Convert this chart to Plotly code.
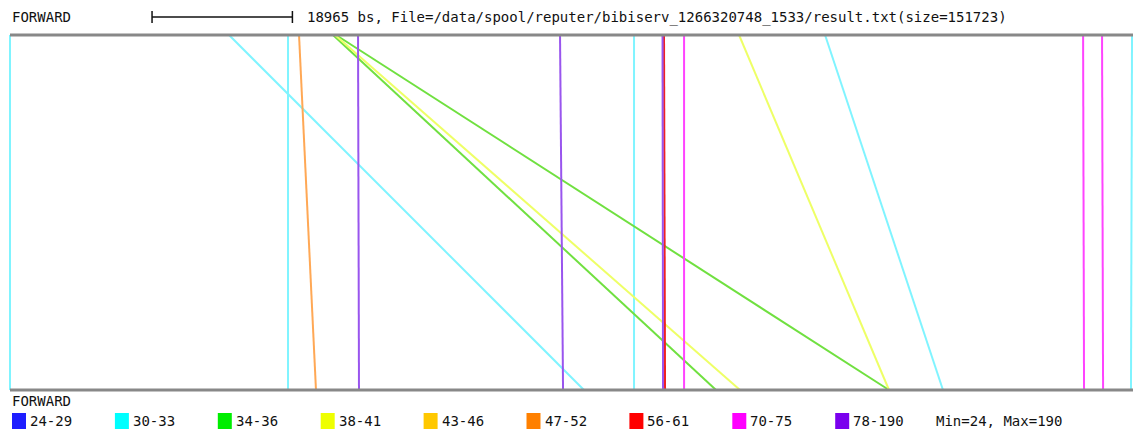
import plotly.graph_objects as go

# ---------------- data ----------------
SEQ_LEN = 151723          # bp (size of sequence)
SCALE_BP = 18965          # scale bar length in bp
SCALE_START = 19190       # bp where scale bar starts
header_label = "FORWARD"
file_text = "18965 bs, File=/data/spool/reputer/bibiserv_1266320748_1533/result.txt(size=151723)"

classes = ["24-29", "30-33", "34-36", "38-41", "43-46", "47-52", "56-61", "70-75", "78-190"]
class_colors = ["#1e1eff", "#00ffff", "#00ee00", "#eeff00", "#ffc800",
                "#ff8000", "#ff0000", "#ff00ff", "#7a00ee"]
# colours as the thin match lines appear
line_colors = ["#4040ff", "#80f4ff", "#70e040", "#eeff66", "#ffc840",
               "#ffa855", "#ee2222", "#ff44ff", "#9955ee"]
minmax_text = "Min=24, Max=190"

# repeat matches: position in top copy, position in bottom copy, length class
match_top = [0, 29590, 37560, 39050, 43640, 43910, 44050, 47020, 74310,
             84310, 88160, 88360, 91070, 98500, 110120, 144980, 147540, 151590]
match_bottom = [0, 77550, 37560, 41340, 95390, 98630, 118760, 47150, 74720,
                84310, 88230, 88500, 91070, 118760, 126050, 145110, 147680, 151450]
match_class = [1, 1, 1, 5, 2, 3, 2, 8, 8, 1, 8, 6, 7, 3, 1, 7, 7, 1]

# ---------------- layout helpers ----------------
W, H = 1135, 432
BP_PER_PX = SEQ_LEN / 1123.0
X0_PX = 10  # pixel of bp 0
def px_to_bp(px):
    return (px - X0_PX) * BP_PER_PX
TOP_PX, BOT_PX = 35, 390
UNIT = BOT_PX - TOP_PX
def py_to_y(py):
    return (BOT_PX - py) / UNIT

fig = go.Figure()

for ci, col in enumerate(line_colors):
    xs, ys = [], []
    for t, b, c in zip(match_top, match_bottom, match_class):
        if c == ci:
            xs += [t, b, None]
            ys += [1, 0, None]
    if xs:
        fig.add_trace(go.Scatter(x=xs, y=ys, mode="lines",
                                 line=dict(color=col, width=2),
                                 hoverinfo="skip", showlegend=False))

dom_x = [8 / W, 1.0]
dom_y = [1 - 393 / H, 1 - 32 / H]
fig.update_xaxes(domain=dom_x, range=[px_to_bp(8), px_to_bp(W)], visible=False)
fig.update_yaxes(domain=dom_y, range=[py_to_y(393), py_to_y(32)], visible=False)

shapes = []
# top and bottom sequence lines
for yv in (0, 1):
    shapes.append(dict(type="line", xref="x", yref="y", x0=0, x1=SEQ_LEN,
                       y0=yv, y1=yv, line=dict(color="#888888", width=3)))
# scale bar
sb_y = 1 - 17 / H
shapes.append(dict(type="line", xref="x", yref="paper", x0=SCALE_START,
                   x1=SCALE_START + SCALE_BP, y0=sb_y, y1=sb_y,
                   line=dict(color="#111111", width=1.5)))
for xe in (SCALE_START, SCALE_START + SCALE_BP):
    shapes.append(dict(type="line", xref="x", yref="paper", x0=xe, x1=xe,
                       y0=1 - 11 / H, y1=1 - 23 / H,
                       line=dict(color="#111111", width=1.5)))

font = dict(family="DejaVu Sans Mono", size=14, color="#111111")
ann = []
ann.append(dict(text=header_label, x=10 / W, y=1 - 17 / H, xref="paper", yref="paper",
                xanchor="left", yanchor="middle", showarrow=False, font=font))
ann.append(dict(text=file_text, x=305 / W, y=1 - 18 / H, xref="paper", yref="paper",
                xanchor="left", yanchor="middle", showarrow=False, font=font))
ann.append(dict(text=header_label, x=10 / W, y=1 - 401 / H, xref="paper", yref="paper",
                xanchor="left", yanchor="middle", showarrow=False, font=font))

# legend
leg_x0, leg_step = 12, 102.9
for i, (lab, col) in enumerate(zip(classes, class_colors)):
    sx = leg_x0 + i * leg_step
    shapes.append(dict(type="rect", xref="paper", yref="paper",
                       x0=sx / W, x1=(sx + 14) / W, y0=1 - 429 / H, y1=1 - 413 / H,
                       fillcolor=col, line=dict(width=0)))
    ann.append(dict(text=lab, x=(sx + 16) / W, y=1 - 421 / H, xref="paper", yref="paper",
                    xanchor="left", yanchor="middle", showarrow=False, font=font))
ann.append(dict(text=minmax_text, x=(leg_x0 + 9 * leg_step - 4) / W, y=1 - 421 / H,
                xref="paper", yref="paper", xanchor="left", yanchor="middle",
                showarrow=False, font=font))

fig.update_layout(width=W, height=H, margin=dict(l=0, r=0, t=0, b=0, pad=0),
                  paper_bgcolor="white", plot_bgcolor="white",
                  shapes=shapes, annotations=ann, showlegend=False)

fig.write_html("out.html", config={"displayModeBar": False},
               post_script="document.body.style.margin='0';document.body.style.overflow='hidden';")
